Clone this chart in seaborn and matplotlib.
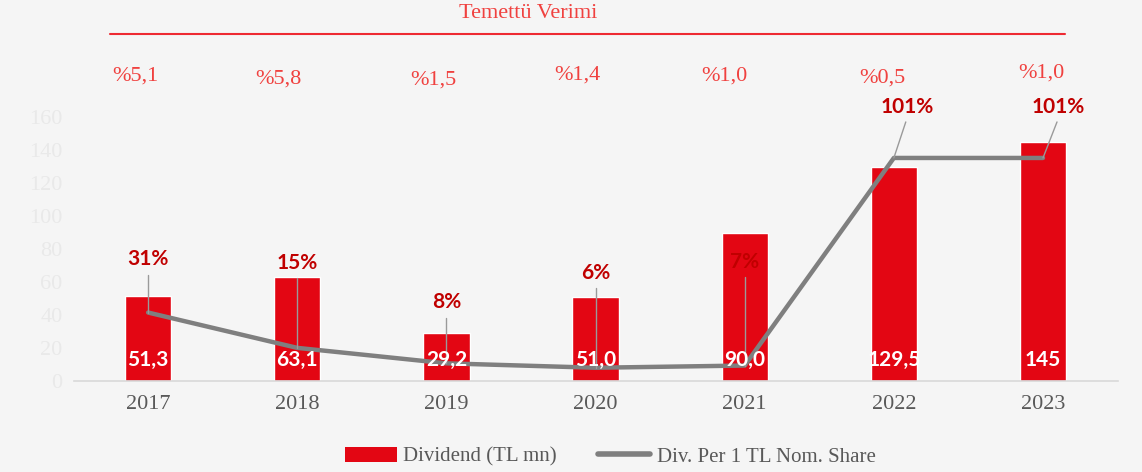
import numpy as np
import matplotlib.pyplot as plt
import matplotlib.transforms as mtrans
from matplotlib.patches import Patch
from matplotlib.lines import Line2D
import seaborn as sns

# data
years = ['2017', '2018', '2019', '2020', '2021', '2022', '2023']
dividend = [51.3, 63.1, 29.2, 51.0, 90.0, 129.5, 145.0]
dividend_labels = ['51,3', '63,1', '29,2', '51,0', '90,0', '129,5', '145']
per_share_pct = [31, 15, 8, 6, 7, 101, 101]
yield_labels = ['%5,1', '%5,8', '%1,5', '%1,4', '%1,0', '%0,5', '%1,0']

# label placement (layout only)
pct_label_y = [55.3, 53.4, 35.8, 48.9, 53.9, 124.1, 124.1]
pct_label_dx = [0, 0, 0, 0, 0, 0.087, 0.10]
leader_top_y = [48.0, 46.6, 28.5, 42.0, 47.0, 117.3, 117.3]
leader_top_dx = [0, 0, 0, 0, 0, 0.08, 0.094]
yield_dx = [-0.087, -0.128, -0.087, -0.121, -0.134, -0.074, -0.013]
yield_ypx = [76, 79, 80, 75, 76, 78, 73]

RED = '#e30613'
GRAY = '#7f7f7f'
BG = '#f5f5f5'
SERIF = 'Liberation Serif'

sns.set_style('white')
plt.rcParams['font.family'] = [SERIF, 'DejaVu Sans']

fig = plt.figure(figsize=(11.42, 4.72), dpi=100, facecolor=BG)
ax = fig.add_axes([0.0644, 0.1928, 0.9142, 0.5942])
ax.set_facecolor(BG)

sns.barplot(x=years, y=dividend, color=RED, width=0.31, saturation=1, ax=ax)
ax.set_xlim(-0.5, 6.5)
ax.set_ylim(0, 170)
ax.set_yticks(range(0, 161, 20))
ax.set_xlabel('')
ax.set_ylabel('')
ax.tick_params(length=0)
ax.tick_params(axis='x', labelsize=16, labelcolor='#595959', pad=10)
ax.tick_params(axis='y', labelsize=16, labelcolor='#e9e9e9', pad=8)
for s in ['top', 'right', 'left']:
    ax.spines[s].set_visible(False)
ax.spines['bottom'].set_color('#d9d9d9')
ax.spines['bottom'].set_linewidth(1.2)

# secondary axis for the per-share line
ax2 = ax.twinx()
x = np.arange(len(years))
sns.lineplot(x=x, y=per_share_pct, ax=ax2, color=GRAY, linewidth=3.2,
             solid_capstyle='round', solid_joinstyle='round')
ax2.set_ylim(0, 127)
ax2.set_xlim(-0.5, 6.5)
ax2.set_yticks([])
ax2.set_ylabel('')
for s in ax2.spines.values():
    s.set_visible(False)

# leader lines and percent labels
for i, p in enumerate(per_share_pct):
    ax2.plot([i, i + leader_top_dx[i]], [p, leader_top_y[i]], color='#9a9a9a', lw=1, zorder=4)
    ax2.text(i + pct_label_dx[i], pct_label_y[i], f'{p}%', ha='center', va='center',
             fontsize=15, fontweight='bold', color='#c00000', family='Lato', zorder=5)

# bar value labels
for i, lab in enumerate(dividend_labels):
    ax2.text(i, 12.7, lab, transform=ax.transData, ha='center', va='center',
             fontsize=15, fontweight='bold', color='white', family='Lato', zorder=6)

# dividend yield row above the chart
tr = mtrans.blended_transform_factory(ax.transData, fig.transFigure)
for i, lab in enumerate(yield_labels):
    fig.text(i + yield_dx[i], 1 - yield_ypx[i] / 472, lab, transform=tr,
             ha='center', va='center', fontsize=16, color='#f0413f')

fig.text(528 / 1142, 1 - 14 / 472, 'Temettü Verimi', ha='center', va='center',
         fontsize=16, color='#f0413f')
fig.add_artist(Line2D([110 / 1142, 1065 / 1142], [1 - 34 / 472] * 2,
                      transform=fig.transFigure, color='#ee2a32', lw=1.5))

handles = [Patch(facecolor=RED, edgecolor='none'),
           Line2D([0], [0], color=GRAY, lw=4, solid_capstyle='round')]
fig.legend(handles, ['Dividend (TL mn)', 'Div. Per 1 TL Nom. Share'],
           loc='center', bbox_to_anchor=(610 / 1142, 1 - 457 / 472), ncol=2,
           frameon=False, fontsize=15, labelcolor='#595959',
           handlelength=2.5, handletextpad=0.3, columnspacing=2.0)

fig.savefig('out.png', dpi=100, facecolor=BG)
